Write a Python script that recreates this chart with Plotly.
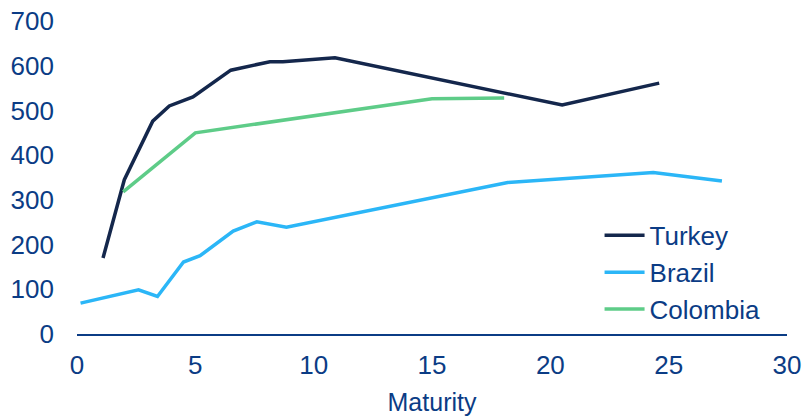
import plotly.graph_objects as go

# Data
turkey_x = [1.1, 2.0, 3.2, 3.9, 4.9, 6.5, 8.15, 8.7, 10.9, 20.5, 24.6]
turkey_y = [170, 345, 476, 510, 530, 590, 609, 609, 618, 512, 561]

brazil_x = [0.15, 2.6, 3.4, 4.5, 5.2, 6.6, 7.6, 8.85, 18.2, 24.35, 27.25]
brazil_y = [69, 99, 84, 161, 175, 230, 251, 239, 339, 361, 342]

colombia_x = [1.95, 5.0, 15.0, 18.05]
colombia_y = [318, 450, 526, 528]

x_ticks = [0, 5, 10, 15, 20, 25, 30]
y_ticks = [0, 100, 200, 300, 400, 500, 600, 700]

TEXT = "#0B3C85"
FONT = "Liberation Sans, Arial, sans-serif"

fig = go.Figure()
fig.add_trace(go.Scatter(x=turkey_x, y=turkey_y, mode="lines", name="Turkey",
                         line=dict(color="#14274C", width=3.5)))
fig.add_trace(go.Scatter(x=brazil_x, y=brazil_y, mode="lines", name="Brazil",
                         line=dict(color="#2BB6F7", width=3.5)))
fig.add_trace(go.Scatter(x=colombia_x, y=colombia_y, mode="lines", name="Colombia",
                         line=dict(color="#5ECC88", width=3.5)))

fig.update_layout(
    width=803, height=416,
    margin=dict(l=77, r=16, t=21, b=82, autoexpand=False),
    paper_bgcolor="white", plot_bgcolor="white",
    font=dict(family=FONT, size=26, color=TEXT),
    showlegend=True,
    legend=dict(x=0.736, y=0.39, xanchor="left", yanchor="top",
                bgcolor="rgba(0,0,0,0)", font=dict(size=26, color=TEXT),
                itemwidth=40, tracegroupgap=0),
    xaxis=dict(range=[0, 30], tickvals=x_ticks, ticktext=[str(v) for v in x_ticks],
               showgrid=False, zeroline=False, showline=True, linecolor="#0B3C85",
               linewidth=2, ticks="", ticklabelstandoff=7, automargin=False,
               title=dict(text="Maturity", font=dict(size=25, color=TEXT), standoff=14),
               fixedrange=True),
    yaxis=dict(range=[0, 700], tickvals=y_ticks, ticktext=[str(v) for v in y_ticks],
               showgrid=False, zeroline=False, showline=False, ticks="",
               ticklabelstandoff=22, automargin=False, fixedrange=True),
)

fig.write_html("out.html")
